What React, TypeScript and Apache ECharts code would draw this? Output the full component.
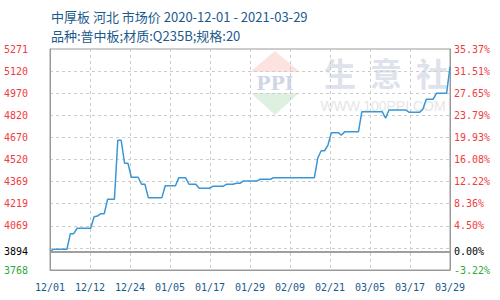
import React, { useEffect, useRef } from 'react';
import * as echarts from 'echarts';

// ---- data ----
const startDate = '2020-12-01';
const endDate = '2021-03-29';
// daily prices from 2020-12-01 to 2021-03-29 (one value per day)
const prices: number[] = [
  3894,
  3909, 3909, 3909, 3909, 3909,
  4015, 4015,
  4052, 4052, 4052, 4052, 4052,
  4130, 4135, 4151, 4151,
  4249, 4249, 4249,
  4650, 4650,
  4494, 4494,
  4399, 4399, 4399,
  4351, 4351,
  4260, 4260, 4260, 4260, 4260,
  4341, 4341, 4341, 4341,
  4396, 4396, 4396,
  4351, 4351, 4351,
  4324, 4324, 4324, 4324,
  4337, 4337, 4337, 4337,
  4351, 4351, 4351,
  4358, 4358, 4373,
  4373, 4373, 4373, 4373,
  4385, 4385, 4385, 4385,
  4396, 4396, 4396, 4396, 4396, 4396, 4396, 4396, 4396, 4396, 4396, 4396, 4396,
  4530,
  4579, 4579,
  4618,
  4702, 4702, 4702,
  4686,
  4709, 4709, 4709, 4709, 4709,
  4845, 4845, 4845, 4845, 4845, 4845, 4845,
  4800,
  4856, 4856, 4856, 4856, 4856, 4856,
  4840, 4840, 4840, 4840,
  4861,
  4929, 4929, 4929,
  4970, 4970, 4970, 4970,
  5150,
];
const baseValue = 3894;
const yMin = 3768;
const yMax = 5271;
const yInterval = 150.3;
const leftTickLabels = ['3768', '', '4069', '4219', '4369', '4520', '4670', '4820', '4970', '5120', '5271'];
const rightTickLabels = ['-3.22%', '', '4.50%', '8.36%', '12.22%', '16.08%', '19.93%', '23.79%', '27.65%', '31.51%', '35.37%'];
const baseLeftLabel = '3894';
const baseRightLabel = '0.00%';
const xLabelCount = 10;
const titleLine1 = '中厚板 河北 市场价 2020-12-01 - 2021-03-29';
const titleLine2 = '品种:普中板;材质:Q235B;规格:20';
const watermarkChars = ['生', '意', '社'];
const watermarkUrl = 'WWW.100PPI.COM';
const logoText = 'PPI';

const DAY = 86400000;
const startMs = Date.parse(startDate);
const totalDays = Math.round((Date.parse(endDate) - startMs) / DAY);

const pad = (n: number) => (n < 10 ? '0' + n : '' + n);
const fmtDay = (d: number) => {
  const t = new Date(startMs + Math.floor(d + 1e-6) * DAY);
  return pad(t.getUTCMonth() + 1) + '/' + pad(t.getUTCDate());
};
const tickIndex = (v: number) => Math.round((v - yMin) / yInterval);

const RED = '#f03c3c';
const GREEN = '#2fa83a';
const BLUE_TEXT = '#1b5a8c';
const MONO = '"DejaVu Sans Mono", monospace';
const CJK = '"Noto Sans CJK SC", "Noto Sans", sans-serif';

export default function App() {
  const ref = useRef<HTMLDivElement>(null);
  useEffect(() => {
    document.body.style.margin = '0';
    if (!ref.current) return;
    const chart = echarts.init(ref.current, undefined, { renderer: 'svg' });
    const seriesData = prices.map((v, i) => [i, v]);
    const labelColor = (v: any) => {
      const idx = tickIndex(Number(v));
      return idx === 0 ? GREEN : RED;
    };
    chart.setOption({
      animation: false,
      backgroundColor: '#fff',
      title: [
        {
          text: titleLine1,
          left: 46,
          top: 5,
          textStyle: { fontFamily: CJK, fontSize: 13, fontWeight: 'normal', color: BLUE_TEXT },
        },
        {
          text: titleLine2,
          left: 46,
          top: 24,
          textStyle: { fontFamily: CJK, fontSize: 13, fontWeight: 'normal', color: BLUE_TEXT },
        },
      ],
      graphic: {
        elements: [
          {
            type: 'polygon',
            z: -10,
            silent: true,
            shape: { points: [[275, 51], [300, 72], [250, 72]] },
            style: { fill: '#fce3e0' },
          },
          {
            type: 'polygon',
            z: -10,
            silent: true,
            shape: { points: [[251, 93], [299, 93], [275, 115]] },
            style: { fill: '#def1e1' },
          },
          {
            type: 'text',
            z: -10,
            silent: true,
            x: 275,
            y: 83,
            style: {
              text: logoText,
              fill: '#cfd6e6',
              font: 'bold 19px "DejaVu Serif", serif',
              align: 'center',
              verticalAlign: 'middle',
            },
          },
          ...watermarkChars.map((ch, i) => ({
            type: 'text',
            z: -10,
            silent: true,
            x: 340 + i * 46,
            y: 72,
            style: {
              text: ch,
              fill: '#dde2ec',
              font: 'bold 32px "Noto Sans CJK SC", sans-serif',
              align: 'center',
              verticalAlign: 'middle',
            },
          })),
          {
            type: 'text',
            z: -10,
            silent: true,
            x: 383,
            y: 106,
            style: {
              text: watermarkUrl,
              fill: '#e6e6e6',
              font: '14px "Liberation Sans", sans-serif',
              align: 'center',
              verticalAlign: 'middle',
            },
          },
        ],
      },
      grid: {
        left: 50,
        right: 50,
        top: 49,
        bottom: 30,
        show: true,
        borderColor: '#9a9a9a',
        borderWidth: 1,
        backgroundColor: 'transparent',
      },
      xAxis: {
        type: 'value',
        min: 0,
        max: totalDays,
        interval: totalDays / xLabelCount,
        axisLine: { show: true, lineStyle: { color: '#9a9a9a', width: 1 } },
        axisTick: { show: false },
        axisLabel: {
          color: BLUE_TEXT,
          fontFamily: MONO,
          fontSize: 10,
          margin: 12,
          formatter: (v: number) => fmtDay(v),
        },
        splitLine: { show: true, lineStyle: { color: '#cccccc', type: [3, 3], width: 1 } },
      },
      yAxis: [
        {
          type: 'value',
          position: 'left',
          min: yMin,
          max: yMax,
          interval: yInterval,
          axisLine: { show: true, lineStyle: { color: '#9a9a9a', width: 1 } },
          axisTick: { show: false },
          axisLabel: {
            fontFamily: MONO,
            fontSize: 10,
            margin: 22,
            color: labelColor,
            formatter: (v: number) => leftTickLabels[tickIndex(v)] ?? '',
          },
          splitLine: { show: true, lineStyle: { color: '#cccccc', type: [3, 3], width: 1 } },
        },
        {
          type: 'value',
          position: 'right',
          min: yMin,
          max: yMax,
          interval: yInterval,
          axisLine: { show: true, lineStyle: { color: '#9a9a9a', width: 1 } },
          axisTick: { show: false },
          axisLabel: {
            fontFamily: MONO,
            fontSize: 10,
            margin: 4,
            color: labelColor,
            formatter: (v: number) => rightTickLabels[tickIndex(v)] ?? '',
          },
          splitLine: { show: false },
        },
      ],
      series: [
        {
          type: 'line',
          yAxisIndex: 0,
          data: seriesData,
          showSymbol: false,
          symbol: 'none',
          lineStyle: { color: '#3a97d6', width: 1.5 },
          itemStyle: { color: '#3a97d6' },
          markLine: {
            silent: true,
            symbol: ['none', 'none'],
            lineStyle: { color: '#999999', type: 'solid', width: 1.5 },
            data: [
              {
                yAxis: baseValue,
                label: {
                  show: true,
                  position: 'start',
                  distance: 22,
                  formatter: baseLeftLabel,
                  color: '#000',
                  fontFamily: MONO,
                  fontSize: 10,
                },
              },
              {
                yAxis: baseValue,
                label: {
                  show: true,
                  position: 'end',
                  distance: 4,
                  formatter: baseRightLabel,
                  color: '#000',
                  fontFamily: MONO,
                  fontSize: 10,
                },
              },
            ],
          },
        },
      ],
    });
    return () => chart.dispose();
  }, []);
  return <div ref={ref} style={{ width: 500, height: 300 }} />;
}
